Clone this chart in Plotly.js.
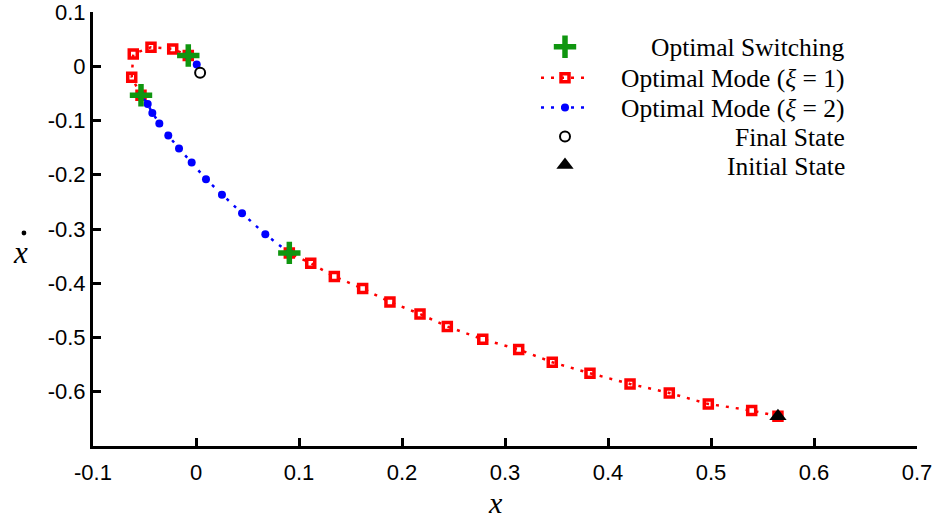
<!DOCTYPE html>
<html>
<head>
<meta charset="utf-8">
<script src="https://cdn.plot.ly/plotly-3.0.1.min.js"></script>
<style>html,body{margin:0;padding:0;background:#fff;}#chart{width:938px;height:523px;}</style>
</head>
<body>
<div id="chart"></div>
<script>
// ---- data ----
const mode1aX = [0.565, 0.5395, 0.4974, 0.4595, 0.4214, 0.3825, 0.3459, 0.3133, 0.2784, 0.2440, 0.2175, 0.1883, 0.1618, 0.1343, 0.1114, 0.0906];
const mode1aY = [-0.645, -0.6347, -0.6225, -0.6022, -0.5856, -0.5659, -0.5456, -0.5222, -0.5032, -0.4798, -0.4566, -0.4345, -0.4098, -0.3876, -0.3631, -0.3441];
const mode2aX = [0.0906, 0.0673, 0.0447, 0.0252, 0.0097, -0.0042, -0.0165, -0.0269, -0.0356, -0.0424, -0.0469, -0.0534];
const mode2aY = [-0.3441, -0.3097, -0.2710, -0.2369, -0.2083, -0.1775, -0.1517, -0.1277, -0.1056, -0.0861, -0.0695, -0.0535];
const mode1bX = [-0.0534, -0.0624, -0.0609, -0.0437, -0.0226, -0.0075];
const mode1bY = [-0.0535, -0.0203, 0.0227, 0.0350, 0.0319, 0.0197];
const mode2bX = [-0.0075, 0.0007, 0.004];
const mode2bY = [0.0197, 0.0031, -0.012];
const switchX = [0.0906, -0.0534, -0.0075];
const switchY = [-0.3441, -0.0535, 0.0197];
const finalX = [0.004];
const finalY = [-0.012];
const initialX = [0.565];
const initialY = [-0.645];

const xTickVals = [-0.1, 0, 0.1, 0.2, 0.3, 0.4, 0.5, 0.6, 0.7];
const xTickText = ['-0.1', '0', '0.1', '0.2', '0.3', '0.4', '0.5', '0.6', '0.7'];
const yTickVals = [-0.6, -0.5, -0.4, -0.3, -0.2, -0.1, 0, 0.1];
const yTickText = ['-0.6', '-0.5', '-0.4', '-0.3', '-0.2', '-0.1', '0', '0.1'];

const legendLabels = ['Optimal Switching', 'Optimal Mode (<i>\u03BE</i> = 1)', 'Optimal Mode (<i>\u03BE</i> = 2)', 'Final State', 'Initial State'];

// ---- styles ----
const RED = '#ff0000', BLUE = '#0000ff', GREEN = 'rgb(16,150,16)';
const SERIF = 'Liberation Serif, Times New Roman, serif';
const SANS = 'Liberation Sans, Arial, sans-serif';
const dotDash = '3px,7px';
const lineW = 2.5;
const sqMarker = {symbol: 'square-open', size: 8, color: RED, line: {color: RED, width: 3.5}};
const dotMarker = {symbol: 'circle', size: 8, color: BLUE};
const plusMarker = {symbol: 'cross-thin-open', size: 16, color: GREEN, line: {color: GREEN, width: 5.5}};
const circMarker = {symbol: 'circle', size: 10, color: '#fff', line: {color: '#000', width: 2}};
const triMarker = {symbol: 'triangle-up', size: 15, color: '#000'};

const traces = [
  {x: mode1aX, y: mode1aY, mode: 'lines+markers', line: {color: RED, width: lineW, dash: dotDash}, marker: sqMarker},
  {x: mode1bX, y: mode1bY, mode: 'lines+markers', line: {color: RED, width: lineW, dash: dotDash}, marker: sqMarker},
  {x: mode2aX, y: mode2aY, mode: 'lines+markers', line: {color: BLUE, width: lineW, dash: dotDash}, marker: dotMarker},
  {x: mode2bX, y: mode2bY, mode: 'lines+markers', line: {color: BLUE, width: lineW, dash: dotDash}, marker: dotMarker},
  {x: switchX, y: switchY, mode: 'markers', marker: plusMarker},
  {x: finalX, y: finalY, mode: 'markers', marker: circMarker},
  {x: initialX, y: initialY, mode: 'markers', marker: triMarker}
];

// ---- custom right-aligned legend (pixel-like hidden axes) ----
const legRowY = [46.7, 77.7, 107.5, 136.5, 165];
const legSymX = 565, legLineX0 = 541, legLineX1 = 590, legTextX = 847;
const legSamples = [
  {marker: plusMarker},
  {marker: sqMarker, lineColor: RED},
  {marker: dotMarker, lineColor: BLUE},
  {marker: circMarker},
  {marker: triMarker}
];
legSamples.forEach((s, i) => {
  if (s.lineColor) {
    traces.push({x: [legLineX0, legLineX1], y: [legRowY[i], legRowY[i]], xaxis: 'x2', yaxis: 'y2', mode: 'lines',
      line: {color: s.lineColor, width: lineW, dash: dotDash}, hoverinfo: 'skip'});
  }
  traces.push({x: [legSymX], y: [legRowY[i]], xaxis: 'x2', yaxis: 'y2', mode: 'markers', marker: s.marker, hoverinfo: 'skip'});
});

const annotations = legendLabels.map((t, i) => ({
  text: t, x: legTextX, y: legRowY[i] + 1, xref: 'x2', yref: 'y2', xanchor: 'right', yanchor: 'middle',
  showarrow: false, font: {family: SERIF, size: 25.5, color: '#000'}
}));
// axis titles (paper coordinates, outside the plot area)
annotations.push(
  {text: '<i>x</i>', x: 0.488, y: -0.1313, xref: 'paper', yref: 'paper', xanchor: 'center', yanchor: 'middle',
    showarrow: false, font: {family: SERIF, size: 30, color: '#000'}},
  {text: '<i>x</i>', x: -0.088, y: 0.447, xref: 'paper', yref: 'paper', xanchor: 'center', yanchor: 'middle',
    showarrow: false, font: {family: SERIF, size: 31, color: '#000'}}
);

const axisCommon = {
  showgrid: false, zeroline: false, showline: true, linecolor: '#000', linewidth: 3,
  ticks: 'inside', ticklen: 8, tickwidth: 3, tickcolor: '#000', mirror: false, tickmode: 'array',
  ticklabeloverflow: 'allow',
  tickfont: {family: SANS, size: 22, color: '#000'}
};

const layout = {
  width: 938, height: 523,
  margin: {l: 93, r: 21, t: 12, b: 77, pad: 0},
  paper_bgcolor: '#fff', plot_bgcolor: '#fff',
  showlegend: false,
  font: {family: SANS, size: 22, color: '#000'},
  xaxis: Object.assign({}, axisCommon, {range: [-0.1, 0.7], tickvals: xTickVals, ticktext: xTickText, ticklabelstandoff: 5}),
  yaxis: Object.assign({}, axisCommon, {range: [-0.7, 0.1], tickvals: yTickVals, ticktext: yTickText}),
  xaxis2: {overlaying: 'x', anchor: 'y2', range: [93, 917], visible: false, fixedrange: true},
  yaxis2: {overlaying: 'y', anchor: 'x2', range: [446, 12], visible: false, fixedrange: true},
  annotations: annotations,
  shapes: [
    // the dot of the y-axis title (x-dot)
    {type: 'circle', xref: 'paper', yref: 'paper', xsizemode: 'pixel', ysizemode: 'pixel',
      xanchor: -0.0838, yanchor: 0.4908, x0: -2.4, x1: 2.4, y0: -2.4, y1: 2.4,
      fillcolor: '#000', line: {width: 0}}
  ]
};

Plotly.newPlot('chart', traces, layout, {displayModeBar: false, staticPlot: true});
</script>
</body>
</html>
